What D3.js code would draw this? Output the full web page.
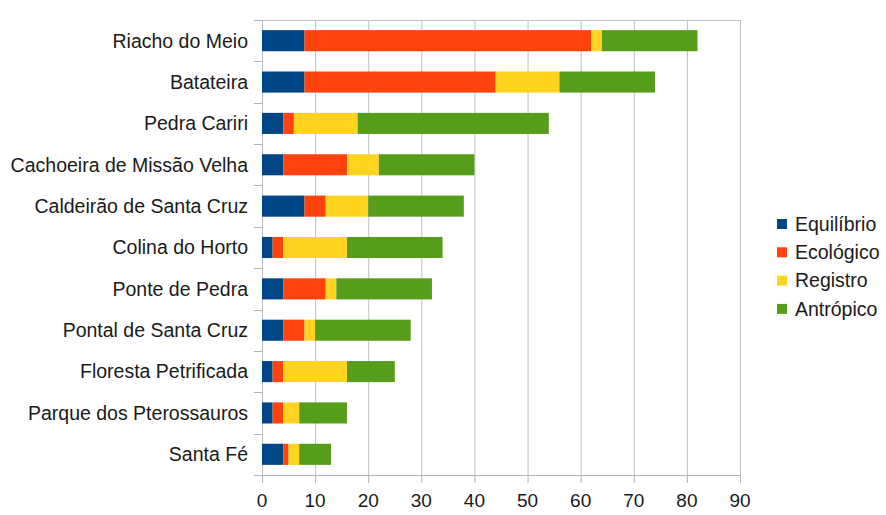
<!DOCTYPE html>
<html>
<head>
<meta charset="utf-8">
<script src="https://cdn.jsdelivr.net/npm/d3@7"></script>
<style>
  body { margin: 0; background: #fff; }
  text { font-family: "Liberation Sans", Arial, sans-serif; fill: #1a1a1a; }
</style>
</head>
<body>
<div id="chart"></div>
<script>
const categories = ['Riacho do Meio', 'Batateira', 'Pedra Cariri', 'Cachoeira de Missão Velha',
  'Caldeirão de Santa Cruz', 'Colina do Horto', 'Ponte de Pedra', 'Pontal de Santa Cruz',
  'Floresta Petrificada', 'Parque dos Pterossauros', 'Santa Fé'];
const seriesNames = ['Equilíbrio', 'Ecológico', 'Registro', 'Antrópico'];
const seriesColors = ['#004586', '#ff420e', '#ffd320', '#579d1c'];
const equilibrio = [8, 8, 4, 4, 8, 2, 4, 4, 2, 2, 4];
const ecologico = [54, 36, 2, 12, 4, 2, 8, 4, 2, 2, 1];
const registro = [2, 12, 12, 6, 8, 12, 2, 2, 12, 3, 2];
const antropico = [18, 18, 36, 18, 18, 18, 18, 18, 9, 9, 6];
const xTicks = [0, 10, 20, 30, 40, 50, 60, 70, 80, 90];

const width = 886, height = 515;
const margin = { top: 20, right: 146, bottom: 40, left: 262 };
const innerW = width - margin.left - margin.right;
const innerH = height - margin.top - margin.bottom;

const rows = categories.map((c, i) => ({
  name: c,
  'Equilíbrio': equilibrio[i],
  'Ecológico': ecologico[i],
  'Registro': registro[i],
  'Antrópico': antropico[i]
}));
const stacked = d3.stack().keys(seriesNames)(rows);

const svg = d3.select('#chart').append('svg')
  .attr('width', width).attr('height', height);
const chart = svg.append('g')
  .attr('transform', `translate(${margin.left},${margin.top})`);

const x = d3.scaleLinear().domain([0, 90]).range([0, innerW]);
const y = d3.scaleBand().domain(categories).range([0, innerH]).paddingInner(0.49).paddingOuter(0.245);

// vertical gridlines
chart.selectAll('.grid').data(xTicks).join('line')
  .attr('class', 'grid')
  .attr('x1', d => x(d) + 0.5).attr('x2', d => x(d) + 0.5)
  .attr('y1', 0).attr('y2', innerH)
  .attr('stroke', '#c0c0c0').attr('stroke-width', 1);

// top border
chart.append('line')
  .attr('x1', -8).attr('x2', innerW + 0.5)
  .attr('y1', 0.5).attr('y2', 0.5)
  .attr('stroke', '#c0c0c0');

// bars
chart.selectAll('.series').data(stacked).join('g')
  .attr('class', 'series')
  .attr('fill', (d, i) => seriesColors[i])
  .selectAll('rect').data(d => d).join('rect')
  .attr('x', d => x(d[0]))
  .attr('width', d => x(d[1]) - x(d[0]))
  .attr('y', d => y(d.data.name))
  .attr('height', y.bandwidth());

// left axis: ticks at category boundaries
const step = innerH / categories.length;
chart.selectAll('.ytick').data(d3.range(categories.length + 1)).join('line')
  .attr('class', 'ytick')
  .attr('x1', -8).attr('x2', 0)
  .attr('y1', d => Math.round(d * step) + 0.5).attr('y2', d => Math.round(d * step) + 0.5)
  .attr('stroke', '#b3b3b3');

chart.selectAll('.ylabel').data(categories).join('text')
  .attr('class', 'ylabel')
  .attr('x', -14)
  .attr('y', d => y(d) + y.bandwidth() / 2)
  .attr('dy', '0.35em')
  .attr('text-anchor', 'end')
  .style('font-size', '19.5px')
  .text(d => d);

// bottom axis
chart.append('line')
  .attr('x1', -8).attr('x2', innerW + 0.5)
  .attr('y1', innerH + 0.5).attr('y2', innerH + 0.5)
  .attr('stroke', '#b3b3b3');
chart.selectAll('.xtick').data(xTicks).join('line')
  .attr('class', 'xtick')
  .attr('x1', d => x(d) + 0.5).attr('x2', d => x(d) + 0.5)
  .attr('y1', innerH).attr('y2', innerH + 8)
  .attr('stroke', '#b3b3b3');
chart.selectAll('.xlabel').data(xTicks).join('text')
  .attr('class', 'xlabel')
  .attr('x', d => x(d))
  .attr('y', innerH + 32)
  .attr('text-anchor', 'middle')
  .style('font-size', '19px')
  .text(d => d);

// legend
const legend = svg.append('g')
  .attr('transform', 'translate(777,224)');
const item = legend.selectAll('.item').data(seriesNames).join('g')
  .attr('class', 'item')
  .attr('transform', (d, i) => `translate(0,${i * 28.3})`);
item.append('rect')
  .attr('x', 0).attr('y', -5).attr('width', 10).attr('height', 10)
  .attr('fill', (d, i) => seriesColors[i]);
item.append('text')
  .attr('x', 18).attr('dy', '0.35em')
  .style('font-size', '19.5px')
  .text(d => d);
</script>
</body>
</html>
